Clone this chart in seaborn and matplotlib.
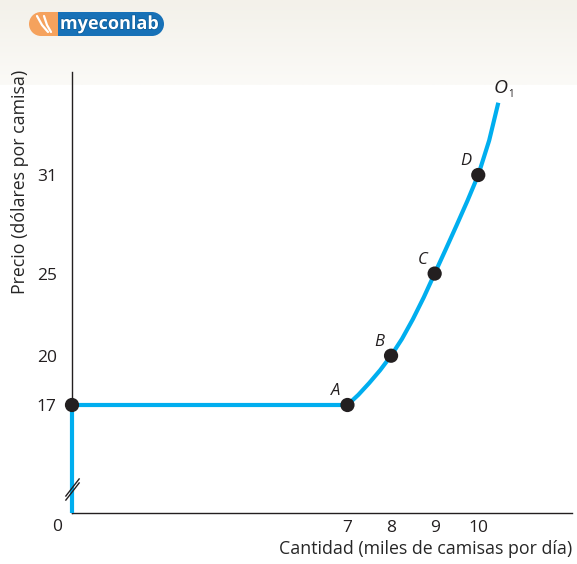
import numpy as np
import pandas as pd
import seaborn as sns
import matplotlib.pyplot as plt
from matplotlib.path import Path
from matplotlib.patches import Circle, Rectangle
import matplotlib.patheffects as pe

# Supply curve O1
curve_q = [0, 0, 7, 7.25, 7.5, 7.75, 8, 8.25, 8.5, 8.75, 9,
           9.25, 9.5, 9.75, 10, 10.25, 10.46]
curve_p = [0, 17, 17, 17.62, 18.34, 19.12, 20, 21.02, 22.22, 23.55, 25,
           26.45, 27.92, 29.42, 31, 33.1, 35.4]

# Labelled points
point_names = ["", "A", "B", "C", "D"]
point_q = [0, 7, 8, 9, 10]
point_p = [17, 17, 20, 25, 31]

x_ticks = [7, 8, 9, 10]
y_ticks = [17, 20, 25, 31]

blue = "#00aeef"
ink = "#231f20"

sns.set_style("white")
plt.rcParams["font.family"] = ["Open Sans", "DejaVu Sans"]
plt.rcParams["text.color"] = ink

fig = plt.figure(figsize=(5.77, 5.64), dpi=100)

# beige band at the top
bg = fig.add_axes([0, 1 - 85 / 564, 1, 85 / 564], zorder=-1)
grad = np.linspace(0, 1, 50).reshape(-1, 1)
top_c = np.array([243, 241, 234]) / 255
bot_c = np.array([251, 250, 247]) / 255
img = top_c + grad[..., None] * (bot_c - top_c)
bg.imshow(img, aspect="auto", extent=[0, 1, 0, 1])
bg.axis("off")

# main axes, both axes are broken between 0 and the first tick
ax = fig.add_axes([72 / 577, 1 - 513 / 564, 500 / 577, 441 / 564])
ax.set_facecolor("none")

xk = [0, 7, 12.15]
xp = [0, 276, 501]
yk = [0, 17, 37.27]
yp = [0, 108, 441]
ax.set_xscale("function", functions=(lambda v: np.interp(v, xk, xp),
                                     lambda v: np.interp(v, xp, xk)))
ax.set_yscale("function", functions=(lambda v: np.interp(v, yk, yp),
                                     lambda v: np.interp(v, yp, yk)))

df = pd.DataFrame({"q": curve_q, "p": curve_p})
sns.lineplot(data=df, x="q", y="p", sort=False, estimator=None, color=blue,
             lw=3, ax=ax, zorder=3, solid_capstyle="butt",
             solid_joinstyle="round", clip_on=False)

pts = pd.DataFrame({"q": point_q, "p": point_p})
sns.scatterplot(data=pts, x="q", y="p", color=ink, s=105, edgecolor="none",
                ax=ax, zorder=5, clip_on=False)

for name, q, p in zip(point_names, point_q, point_p):
    if name:
        ax.annotate(name, (q, p), xytext=(-12, 14), textcoords="offset pixels",
                    ha="center", va="center", fontsize=12, style="italic")

ax.annotate("O", (curve_q[-1], curve_p[-1]), xytext=(2, 15),
            textcoords="offset pixels", ha="center", va="center", fontsize=14,
            style="italic")
ax.annotate("1", (curve_q[-1], curve_p[-1]), xytext=(13, 8),
            textcoords="offset pixels", ha="center", va="center", fontsize=7)

# axis break marks
brk = Path([(-7, -11), (7, 7), (-7, -7), (7, 11)],
           [Path.MOVETO, Path.LINETO, Path.MOVETO, Path.LINETO])
ax.plot([0], [3.8], marker=brk, ms=16, mec=ink, mfc="none", mew=1,
        ls="none", zorder=6, clip_on=False)

ax.set_xlim(0, 12.15)
ax.set_ylim(0, 37.27)
ax.set_xticks(x_ticks)
ax.set_yticks(y_ticks)
ax.minorticks_off()
ax.tick_params(direction="in", length=7, width=1, color=ink, labelsize=12.5,
               labelcolor=ink)
ax.tick_params(axis="x", pad=5)
ax.tick_params(axis="y", pad=11)
for s in ["top", "right"]:
    ax.spines[s].set_visible(False)
for s in ["left", "bottom"]:
    ax.spines[s].set_color(ink)
    ax.spines[s].set_linewidth(1)

ax.annotate("0", (0, 0), xytext=(-15, -14), textcoords="offset pixels",
            ha="center", va="center", fontsize=12.5, annotation_clip=False)

ax.set_xlabel("Cantidad (miles de camisas por día)", loc="right", fontsize=12.8)
ax.set_ylabel("Precio (dólares por camisa)", loc="top", fontsize=12.8)
ax.xaxis.set_label_coords(1.0, -0.062)
ax.yaxis.set_label_coords(-0.086, 1.004)

# myeconlab logo
lg = fig.add_axes([29 / 577, 1 - 36 / 564, 135 / 577, 24 / 564], zorder=2)
lg.set_xlim(0, 135)
lg.set_ylim(0, 24)
lg.axis("off")
lg.add_patch(Circle((12, 12), 12, color="#f5a25d", lw=0))
lg.add_patch(Rectangle((12, 0), 16.5, 24, color="#f5a25d", lw=0))
lg.add_patch(Rectangle((28.5, 0), 94.5, 24, color="#1771b7", lw=0))
lg.add_patch(Circle((123, 12), 12, color="#1771b7", lw=0))
lg.plot([8, 13, 19], [20, 11, 4], color="white", lw=1.6)
lg.plot([15, 18, 22], [20, 11, 4], color="white", lw=1.6)
lg.text(80, 12, "myeconlab", color="white", fontsize=13, fontweight="bold",
        ha="center", va="center",
        path_effects=[pe.withStroke(linewidth=1.2, foreground="#0d5f9c")])

fig.savefig("out.png", dpi=100)
